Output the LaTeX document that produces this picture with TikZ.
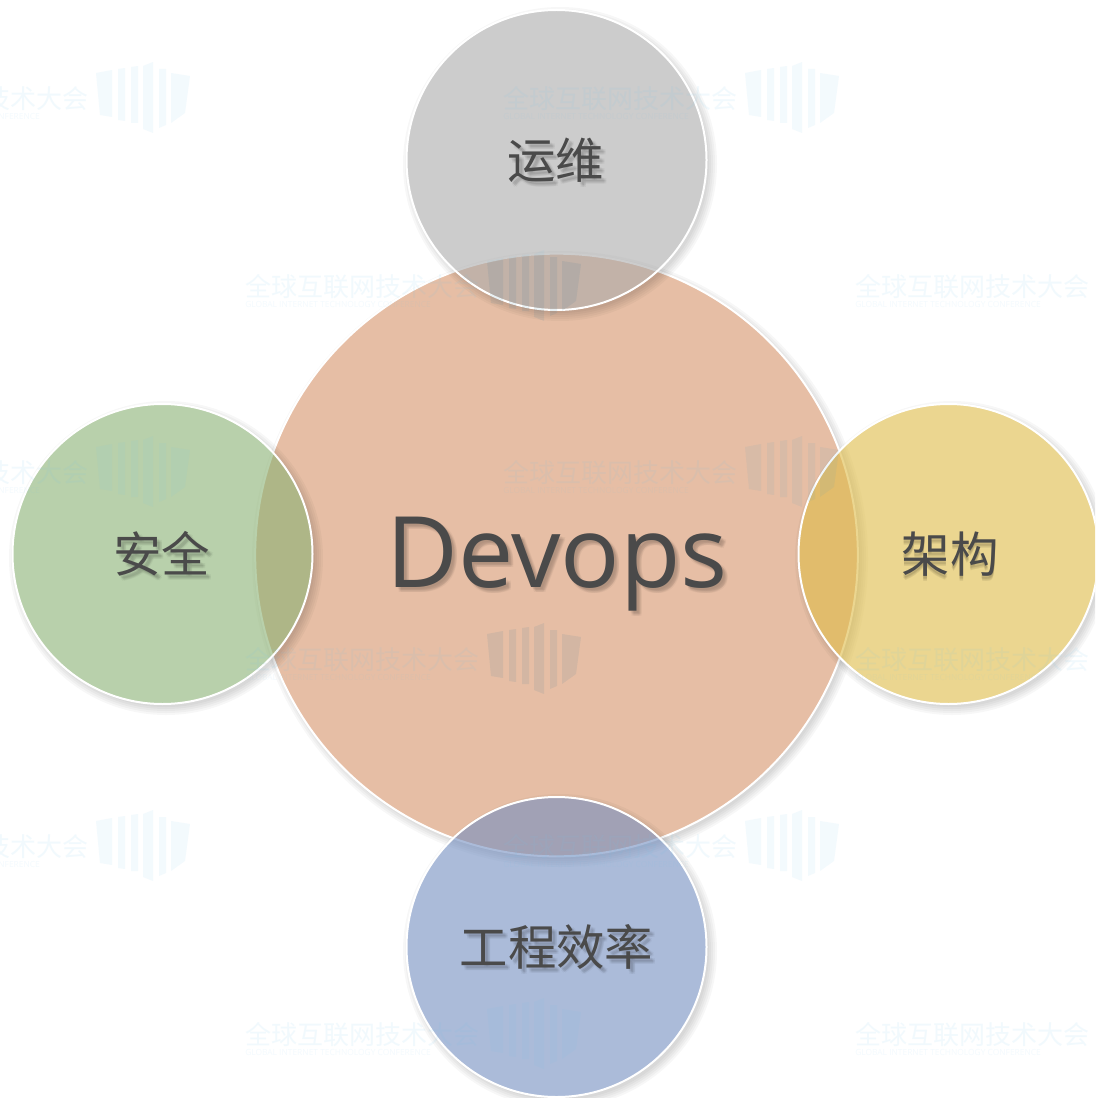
\documentclass[tikz,border=0pt]{standalone}
\usepackage{fontspec}
\setmainfont{Open Sans}
\newfontfamily\cjk{Noto Sans CJK SC}
\definecolor{txtc}{HTML}{4A4A4A}
\definecolor{cmain}{HTML}{E6BEA5}
\definecolor{cgray}{HTML}{AAAAAA}
\definecolor{cgreen}{HTML}{8AB173}
\definecolor{cyell}{HTML}{DEBB46}
\definecolor{cblue}{HTML}{738EC0}
\definecolor{wmc}{HTML}{6CC4EE}
\tikzset{
  mainblob/.style={circle,draw=white,line width=1.5pt,fill=cmain,inner sep=0pt,minimum size=452pt},
  smallblob/.style={circle,draw=white,line width=1.5pt,fill opacity=.6,inner sep=0pt,minimum size=225pt},
  lbl/.style={text=txtc,inner sep=0pt,font=\cjk\fontsize{36.3pt}{36pt}\selectfont},
  bigl/.style={text=txtc,inner sep=0pt,font=\fontsize{74pt}{74pt}\selectfont},
  lblsh/.style={text=black,text opacity=.04},
  wmtext/.style={text=wmc,text opacity=.09,inner sep=0pt,anchor=west,font=\cjk\fontsize{19.5pt}{20pt}\selectfont},
  wmsub/.style={text=wmc,text opacity=.08,inner sep=0pt,anchor=west,font=\fontsize{6.3pt}{7pt}\selectfont},
  wmbar/.style={fill=wmc,fill opacity=.08,draw=none},
  wmdark/.style={fill=black,fill opacity=.04,draw=none},
  wmfaint/.style={fill=black,fill opacity=.015,draw=none},
}
\newcommand{\softsh}[3]{%
  \begin{scope}[even odd rule]
    \clip (-50,-50) rectangle (1150,1150) (#1,#2) circle (#3);
    \foreach \d in {7,5,3,1,-1}
      \fill[black,opacity=.03] (#1+3,#2+4) circle (#3+\d);
  \end{scope}}
\newcommand{\wmbars}[1]{%
    \fill[#1] (242,-26) -- (258,-29) -- (258,18) -- (246,16) -- cycle;
    \fill[#1] (264,-30) -- (271,-31) -- (271,22) -- (264,21) -- cycle;
    \fill[#1] (277,-32) -- (284,-33) -- (284,24) -- (277,24) -- cycle;
    \fill[#1] (289,-33) -- (299,-37) -- (299,34) -- (289,30) -- cycle;
    \fill[#1] (305,-30) -- (312,-30) -- (312,26) -- (305,29) -- cycle;
    \fill[#1] (317,-26) -- (336,-23) -- (331,14) -- (317,24) -- cycle;}
\newcommand{\wmark}[2]{%
  \begin{scope}[shift={(#1,#2)}]
    \node[wmtext] at (0,0) {全球互联网技术大会};
    \node[wmsub] at (0,17) {GLOBAL INTERNET TECHNOLOGY CONFERENCE};
    \wmbars{wmbar}
  \end{scope}}
\newcommand{\wmdk}[3]{%
  \begin{scope}[shift={(#1,#2)}]
    \wmbars{#3}
  \end{scope}}
\begin{document}
\begin{tikzpicture}[x=0.75pt,y=-0.75pt]
\useasboundingbox (0,0) rectangle (1095,1098);
\clip (0,0) rectangle (1095,1098);
\fill[white] (0,0) rectangle (1095,1098);
\softsh{557}{555}{301}
\node[mainblob] (hub) at (556.5,555) {};
\softsh{163}{554}{150}
\node[smallblob,fill=cgreen] (sec) at (162.5,554) {};
\softsh{557}{160}{150}
\node[smallblob,fill=cgray] (ops) at (556.5,160) {};
\softsh{949}{554}{150}
\node[smallblob,fill=cyell] (arch) at (948.5,554) {};
\softsh{557}{947}{150}
\node[smallblob,fill=cblue] (eff) at (556.5,947) {};
% watermarks
\wmark{-146}{99}\wmark{503}{99}
\wmark{245}{287}\wmark{855}{287}
\wmark{-146}{473}\wmark{503}{473}
\wmark{245}{660}\wmark{855}{660}
\wmark{-146}{847}\wmark{503}{847}
\wmark{245}{1035}\wmark{855}{1035}
\begin{scope}
  \clip (557,555) circle (300);
  \wmdk{245}{287}{wmdark}\wmdk{245}{660}{wmdark}\wmdk{503}{473}{wmfaint}
\end{scope}
% label shadows
\foreach \a/\b in {2/2,3/3,4/4,5/5,3/5,5/3}{
  \node[bigl,lblsh] at (557+\a,564+\b) {Devops};
  \node[lbl,lblsh] at (555.5+\a,160+\b) {运维};
  \node[lbl,lblsh] at (161.5+\a,554+\b) {安全};
  \node[lbl,lblsh] at (950,554+\b) {架构};
  \node[lbl,lblsh] at (556.5+\a,947+\b) {工程效率};
}
% labels
\node[bigl] (thub) at (557,564) {Devops};
\node[lbl] (tops) at (555.5,160) {运维};
\node[lbl] (tsec) at (161.5,554) {安全};
\node[lbl] (tarch) at (950,554) {架构};
\node[lbl] (teff) at (556.5,947) {工程效率};
\end{tikzpicture}
\end{document}
